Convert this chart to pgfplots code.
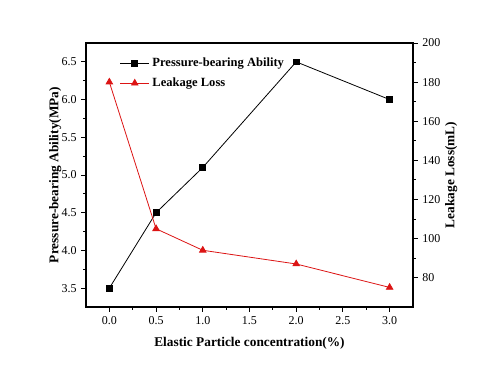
\documentclass[border=0pt]{standalone}
\usepackage{fontspec}
\setmainfont{Liberation Serif}
\usepackage{pgfplots}
\pgfplotsset{compat=1.18}
\definecolor{lossred}{RGB}{220,20,20}
\pgfplotsset{
  common/.style={
    width=245.25pt, height=198pt, scale only axis,
    at={(0,0)}, anchor=south west,
    xmin=-0.25, xmax=3.25,
    tick align=outside,
    major tick length=3.5pt, minor tick length=2pt,
    minor tick num=1,
    axis line style={line width=0.9pt},
    tick style={line width=0.7pt, black},
    /pgf/number format/assume math mode=true,
    ticklabel style={font=\fontsize{9}{10}\selectfont},
    label style={font=\fontsize{10}{12}\selectfont\bfseries},
  },
}
\begin{document}
\begin{tikzpicture}
\path[use as bounding box] (-64.5pt,-45.75pt) rectangle (295.5pt,230.25pt);
\begin{axis}[
  common,
  ymin=3.25, ymax=6.75,
  xtick={0,0.5,1,1.5,2,2.5,3},
  ytick={3.5,4,4.5,5,5.5,6,6.5},
  xtick pos=lower, ytick pos=left,
  xticklabel style={/pgf/number format/.cd, fixed, fixed zerofill, precision=1},
  yticklabel style={/pgf/number format/.cd, fixed, fixed zerofill, precision=1},
  xlabel={Elastic Particle concentration(\%)},
  ylabel={Pressure-bearing Ability(MPa)},
  xlabel style={at={(axis description cs:0.5,-0.136)}, anchor=center},
  ylabel style={at={(axis description cs:-0.094,0.5)}, anchor=center},
  legend style={at={(0.09,0.965)}, anchor=north west, draw=none, fill=none,
    font=\fontsize{9.4}{11}\selectfont\bfseries, row sep=3pt},
  legend cell align=left,
  legend image code/.code={\draw[mark repeat=2, mark phase=2]
    plot coordinates {(0pt,0pt) (11pt,0pt) (22pt,0pt)};},
]
\addplot[black, line width=0.6pt, mark=square*, mark size=2.2pt]
  coordinates {(0,3.5) (0.5,4.5) (1,5.1) (2,6.5) (3,6.0)};
\addlegendentry{Pressure-bearing Ability}
\addlegendimage{lossred, line width=0.6pt, mark=triangle*, mark size=2.8pt}
\addlegendentry{Leakage Loss}
\end{axis}
\begin{axis}[
  common,
  ymin=65, ymax=200,
  hide x axis,
  axis y line*=right,
  ytick={80,100,...,200},
  ylabel={Leakage Loss(mL)},
  ylabel style={at={(axis description cs:1.117,0.5)}, anchor=center},
]
\addplot[lossred, line width=0.6pt, mark=triangle*, mark size=2.8pt]
  coordinates {(0,180) (0.5,105) (1,94) (2,87) (3,75)};
\end{axis}
\end{tikzpicture}
\end{document}
